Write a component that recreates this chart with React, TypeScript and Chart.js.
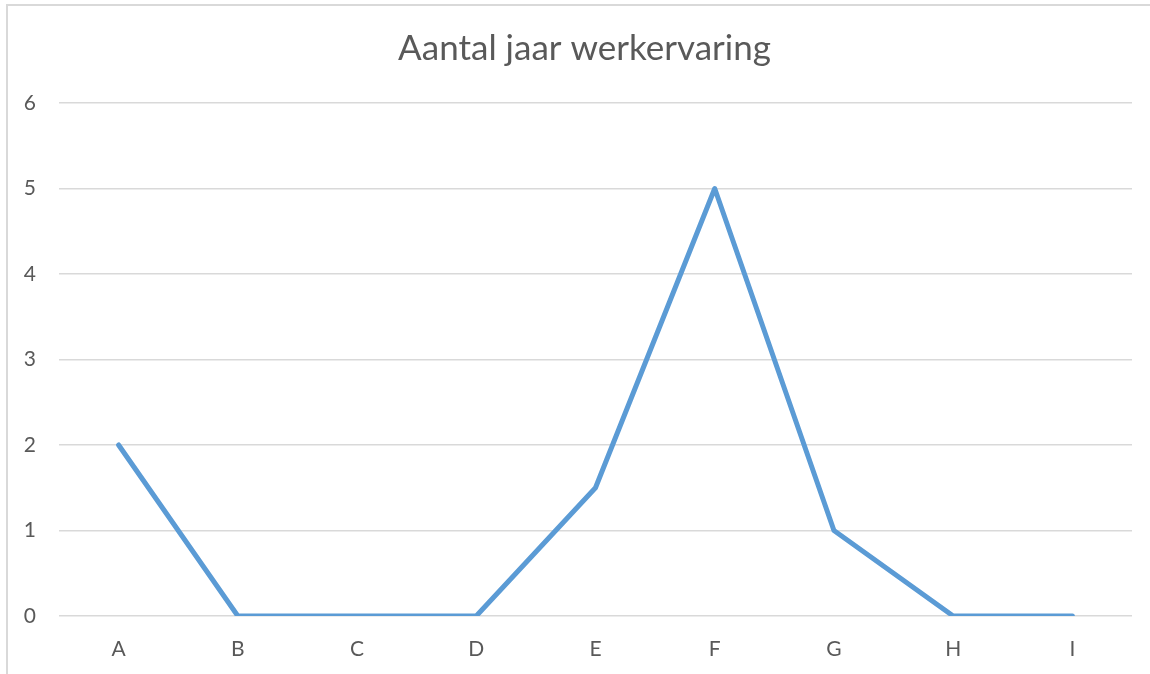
import React, { useEffect, useRef } from "react";
import { Chart, registerables } from "chart.js";

Chart.register(...registerables);

const categories = ["A", "B", "C", "D", "E", "F", "G", "H", "I"];
const values = [2, 0, 0, 0, 1.5, 5, 1, 0, 0];
const titleText = "Aantal jaar werkervaring";

const FONT = "Lato, 'Open Sans', sans-serif";
const TEXT = "#595959";

const borderPlugin = {
  id: "outerBorder",
  afterLayout(chart: any) {
    // centre the title over the whole (cropped) chart frame, as in the reference
    if (chart.titleBlock) {
      chart.titleBlock.left = 37;
    }
  },
  beforeDraw(chart: any) {
    const ctx = chart.ctx;
    ctx.save();
    ctx.strokeStyle = "#d9d9d9";
    ctx.lineWidth = 2;
    ctx.beginPath();
    ctx.moveTo(7, chart.height);
    ctx.lineTo(7, 5);
    ctx.lineTo(chart.width, 5);
    ctx.stroke();
    ctx.restore();
  },
};

export default function App() {
  const ref = useRef<HTMLCanvasElement>(null);
  useEffect(() => {
    document.body.style.margin = "0";
    const chart = new Chart(ref.current!, {
      type: "line",
      data: {
        labels: categories,
        datasets: [
          {
            data: values,
            borderColor: "#5B9BD5",
            backgroundColor: "#5B9BD5",
            borderWidth: 5,
            pointRadius: 0,
            tension: 0,
            borderCapStyle: "round",
            borderJoinStyle: "round",
          },
        ],
      },
      options: {
        animation: false,
        responsive: false,
        layout: { padding: { left: 0, right: 18, top: 0, bottom: 0 } },
        plugins: {
          legend: { display: false },
          tooltip: { enabled: false },
          title: {
            display: true,
            text: titleText,
            color: TEXT,
            font: { family: FONT, size: 35, weight: "normal" as any, lineHeight: 1.2 },
            padding: { top: 27.5, bottom: 33.5 },
          },
        },
        scales: {
          x: {
            offset: true,
            grid: { display: false, drawTicks: false },
            border: { display: false },
            ticks: {
              color: TEXT,
              font: { family: FONT, size: 21 },
              padding: 21,
              maxRotation: 0,
            },
            afterFit(scale: any) {
              scale.height = 58;
            },
          },
          y: {
            min: 0,
            max: 6,
            grid: { color: "#d9d9d9", lineWidth: 1.5, drawTicks: false },
            border: { display: false },
            ticks: {
              stepSize: 1,
              color: TEXT,
              font: { family: FONT, size: 21 },
              padding: 23,
            },
            afterFit(scale: any) {
              scale.width = 59;
            },
          },
        },
      },
      plugins: [borderPlugin],
    });
    return () => chart.destroy();
  }, []);
  return (
    <div style={{ position: "absolute", left: 0, top: 0, width: 1150, height: 674 }}>
      <canvas ref={ref} width={1150} height={674} style={{ width: 1150, height: 674 }} />
    </div>
  );
}
